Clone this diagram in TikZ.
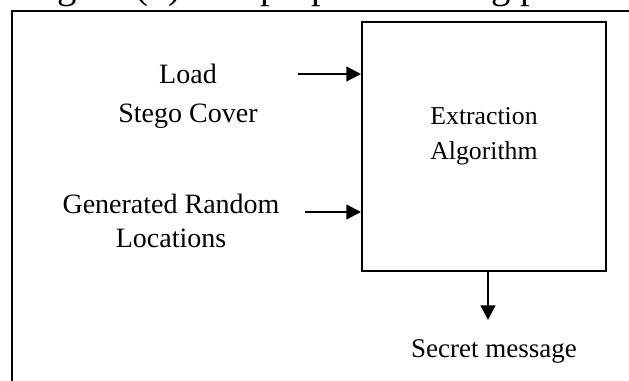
\documentclass[tikz,border=0pt]{standalone}
\usepackage{fontspec}
\setmainfont{Liberation Serif}
\usetikzlibrary{arrows.meta}

\begin{document}
\begin{tikzpicture}[x=0.75pt,y=-0.75pt,
  lbl/.style={inner sep=0pt,align=center,font=\fontsize{21}{29}\selectfont},
  arr/.style={line width=1.8pt,-{Triangle[length=11pt,width=11pt]}}]
  \useasboundingbox (0,0) rectangle (629,380);
  \clip (0,0) rectangle (629,380);
  % cut-off caption and frame of the page
  \node (cap) [anchor=base west,inner sep=0pt,font=\fontsize{29}{34}\selectfont] at (25,-2) {Figure (4) The proposed hiding process};
  \draw [line width=1.1pt] (12,400) -- (12,11) -- (660,11);
  \node (box) [draw,line width=1.5pt,minimum width=183pt,minimum height=186.75pt,inner sep=0pt] at (484,146.5) {};
  \node (algo) [lbl,font=\fontsize{19.3}{26}\selectfont] at (484,136.5) {Extraction\\Algorithm};
  \node (load) [lbl] at (188,96) {Load\\Stego Cover};
  \node (rand) [lbl,font=\fontsize{21}{26}\selectfont] at (171,221) {Generated Random\\Locations};
  \node (out) [anchor=base,inner sep=0pt,font=\fontsize{20.25}{24}\selectfont] at (494,357) {Secret message};
  \coordinate (c1) at (298,74);
  \coordinate (c2) at (305,212);
  \coordinate (c3) at (488,320);
  \draw [arr] (c1) -- (c1 -| box.west);
  \draw [arr] (c2) -- (c2 -| box.west);
  \draw [arr] (c3 |- box.south) -- (c3);
\end{tikzpicture}
\end{document}
